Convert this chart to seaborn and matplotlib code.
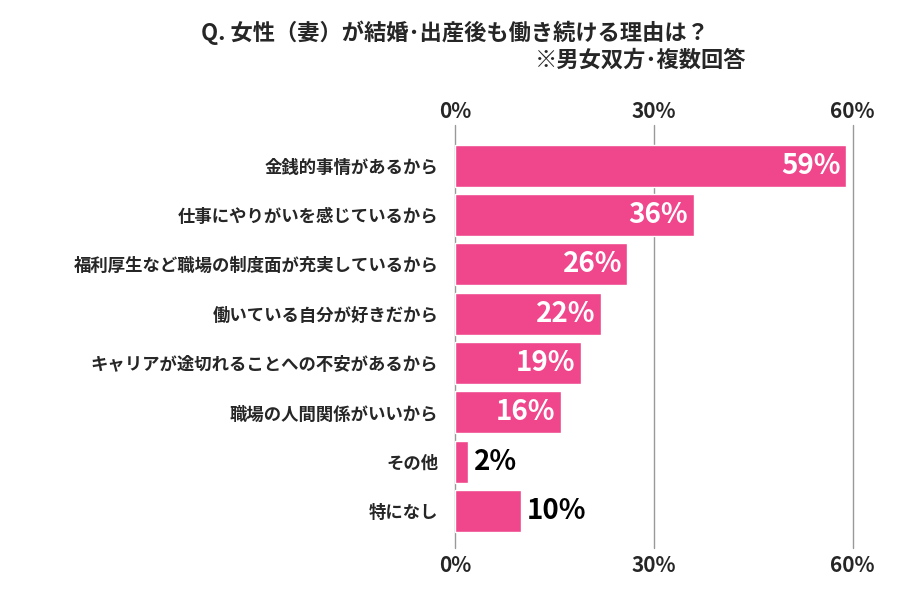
import matplotlib
matplotlib.use("Agg")
import matplotlib.pyplot as plt
import seaborn as sns
import pandas as pd

categories = ["金銭的事情があるから", "仕事にやりがいを感じているから",
              "福利厚生など職場の制度面が充実しているから", "働いている自分が好きだから",
              "キャリアが途切れることへの不安があるから", "職場の人間関係がいいから",
              "その他", "特になし"]
values = [59, 36, 26, 22, 19, 16, 2, 10]

sns.set_theme(style="white")
plt.rcParams['font.family'] = ['Noto Sans CJK JP', 'DejaVu Sans']

df = pd.DataFrame({"cat": categories, "val": values})

fig = plt.figure(figsize=(9.1, 6), dpi=100)
ax = fig.add_axes([0.5, 0.107, 0.437, 0.658])
sns.barplot(data=df, y="cat", x="val", color="#F0468C", saturation=1,
            width=0.85, ax=ax)

ax.set_xlim(0, 60)
ax.set_xticks([0, 30, 60])
ax.set_xticklabels(["0%", "30%", "60%"], fontsize=15, fontweight="bold")
ax.tick_params(axis="x", top=True, labeltop=True, length=0, pad=14)
ax.set_yticks(range(len(categories)))
ax.set_yticklabels(categories, fontsize=12.5, fontweight="bold")
ax.tick_params(axis="y", length=0, pad=12)
ax.set_xlabel("")
ax.set_ylabel("")
for s in ax.spines.values():
    s.set_visible(False)
for x in [0, 30, 60]:
    ax.axvline(x, ymin=-0.03, ymax=1.04, color="#999999", lw=1, zorder=0, clip_on=False)
ax.set_axisbelow(True)

for i, v in enumerate(values):
    if v >= 15:
        ax.text(v - 0.8, i, f"{v}%", ha="right", va="center", color="white",
                fontsize=20, fontweight="bold")
    else:
        ax.text(v + 0.8, i, f"{v}%", ha="left", va="center", color="black",
                fontsize=20, fontweight="bold")

fig.text(0.5, 0.945, "Q. 女性（妻）が結婚･出産後も働き続ける理由は？", ha="center",
         va="center", fontsize=16, fontweight="bold")
fig.text(0.82, 0.9, "※男女双方･複数回答", ha="right", va="center",
         fontsize=16, fontweight="bold")

fig.savefig("out.png", dpi=100, facecolor="white")
